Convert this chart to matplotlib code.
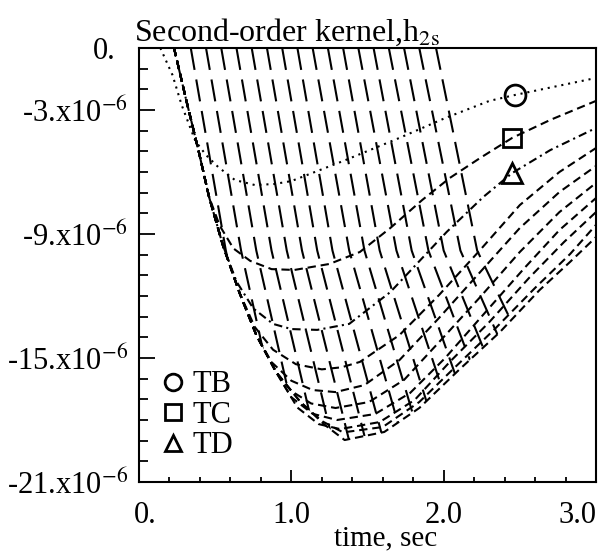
import matplotlib.pyplot as plt
import matplotlib.transforms as mtransforms
from matplotlib.patches import Polygon
from matplotlib.lines import Line2D

plt.rcParams['font.family'] = 'serif'
plt.rcParams['font.serif'] = ['Liberation Serif', 'DejaVu Serif']
plt.rcParams['mathtext.fontset'] = 'stix'
plt.rcParams['lines.scale_dashes'] = False

scale = 1e-6  # kernel values below are in units of 1e-6

# curves of constant second argument (time, sec / value x1e-6)
tb_t = [0.14, 0.22, 0.28, 0.33, 0.37, 0.44, 0.52, 0.63, 0.76, 0.89, 1.00, 1.34, 1.71, 2.01, 2.30, 2.47, 3.00]
tb_v = [0, -1.31, -2.76, -3.73, -4.50, -5.18, -5.76, -6.39, -6.63, -6.58, -6.44, -5.47, -4.35, -3.39, -2.56, -2.27, -1.45]
tc_t = [0.23, 0.31, 0.39, 0.46, 0.53, 0.62, 0.73, 0.87, 1.02, 1.25, 1.45, 1.65, 1.86, 2.04, 2.24, 2.45, 2.70, 3.00]
tc_v = [0, -2.52, -4.94, -7.21, -8.60, -9.70, -10.30, -10.70, -10.74, -10.45, -9.87, -8.71, -7.35, -6.29, -5.32, -4.35, -3.48, -2.56]
td_t = [0.23, 0.31, 0.39, 0.46, 0.55, 0.64, 0.75, 0.88, 1.00, 1.17, 1.38, 1.65, 1.86, 2.02, 2.26, 2.45, 2.70, 3.00]
td_v = [0, -2.52, -4.94, -7.21, -9.53, -11.30, -12.60, -13.35, -13.60, -13.64, -13.35, -11.81, -10.16, -8.90, -7.21, -6.05, -4.94, -3.87]
c3_t = [0.23, 0.31, 0.39, 0.46, 0.55, 0.66, 0.76, 0.88, 1.03, 1.20, 1.33, 1.45, 1.71, 1.97, 2.24, 2.50, 2.76, 3.00]
c3_v = [0, -2.52, -4.94, -7.21, -9.53, -11.85, -13.50, -14.60, -15.30, -15.55, -15.45, -15.19, -13.89, -11.95, -9.77, -7.60, -6.00, -4.84]
c4_t = [0.23, 0.31, 0.39, 0.46, 0.55, 0.66, 0.77, 0.87, 1.00, 1.14, 1.29, 1.48, 1.71, 1.97, 2.24, 2.50, 2.76, 3.00]
c4_v = [0, -2.52, -4.94, -7.21, -9.53, -11.85, -13.89, -15.20, -16.10, -16.55, -16.65, -16.31, -15.10, -13.06, -10.84, -8.71, -6.97, -5.71]
c5_t = [0.23, 0.31, 0.39, 0.46, 0.55, 0.66, 0.77, 0.90, 1.00, 1.13, 1.29, 1.51, 1.74, 1.97, 2.24, 2.50, 2.76, 3.00]
c5_v = [0, -2.52, -4.94, -7.21, -9.53, -11.85, -13.89, -15.68, -16.60, -17.20, -17.42, -17.13, -16.06, -14.23, -12.05, -9.87, -7.94, -6.53]
c6_t = [0.23, 0.31, 0.39, 0.46, 0.55, 0.66, 0.77, 0.90, 1.00, 1.14, 1.30, 1.55, 1.78, 2.01, 2.27, 2.53, 2.76, 3.00]
c6_v = [0, -2.52, -4.94, -7.21, -9.53, -11.85, -13.89, -15.68, -16.90, -17.70, -18.00, -17.71, -16.69, -15.00, -12.82, -10.65, -8.81, -7.26]
c7_t = [0.23, 0.31, 0.39, 0.46, 0.55, 0.66, 0.77, 0.90, 1.04, 1.18, 1.32, 1.58, 1.81, 2.04, 2.30, 2.56, 2.79, 3.00]
c7_v = [0, -2.52, -4.94, -7.21, -9.53, -11.85, -13.89, -15.68, -17.40, -18.20, -18.44, -18.10, -17.03, -15.19, -13.26, -11.13, -9.39, -7.94]
c8_t = [0.23, 0.31, 0.39, 0.46, 0.55, 0.66, 0.77, 0.90, 1.06, 1.20, 1.34, 1.60, 1.84, 2.07, 2.33, 2.60, 2.83, 3.00]
c8_v = [0, -2.52, -4.94, -7.21, -9.53, -11.85, -13.89, -15.68, -17.13, -18.05, -18.60, -18.34, -17.13, -15.48, -13.64, -11.61, -9.97, -8.56]
c9_t = [0.23, 0.31, 0.39, 0.46, 0.55, 0.66, 0.77, 0.90, 1.06, 1.22, 1.35, 1.61, 1.84, 2.10, 2.37, 2.63, 2.83, 3.00]
c9_v = [0, -2.52, -4.94, -7.21, -9.53, -11.85, -13.89, -15.68, -17.13, -18.24, -18.97, -18.58, -17.42, -15.58, -13.74, -11.71, -10.35, -9.15]

# steep cross lines: time where each one is at 0, -9.8 and -20.5 (x1e-6)
cross_v = [0.0, -9.8, -20.5]
cross_top = [0.34, 0.44, 0.54, 0.64, 0.74, 0.84, 0.94, 1.04, 1.14, 1.24, 1.34, 1.44, 1.54, 1.64, 1.74, 1.84, 1.95]
cross_mid = [0.57, 0.67, 0.77, 0.87, 0.97, 1.07, 1.17, 1.27, 1.38, 1.48, 1.58, 1.69, 1.79, 1.90, 2.00, 2.11, 2.22]
cross_bot = [0.89, 0.99, 1.10, 1.21, 1.32, 1.43, 1.54, 1.66, 1.79, 1.91, 2.03, 2.17, 2.30, 2.45, 2.59, 2.75, 2.92]

# symbols on the three labelled curves
mark_t = [2.47, 2.45, 2.45]
mark_v = [-2.27, -4.35, -6.05]
mark_sym = ['o', 's', '^']
mark_names = ['TB', 'TC', 'TD']

fig = plt.figure(figsize=(6.02, 5.53), dpi=100)
ax = fig.add_axes([0.2309, 0.1284, 0.7591, 0.7848])

lw = 1.5
dashed = (0, (6, 3.5))
curves = [(tb_t, tb_v, (0, (1.5, 3.5))),
          (tc_t, tc_v, dashed),
          (td_t, td_v, (0, (6, 3, 1.5, 3))),
          (c3_t, c3_v, dashed),
          (c4_t, c4_v, dashed),
          (c5_t, c5_v, dashed),
          (c6_t, c6_v, dashed),
          (c7_t, c7_v, dashed),
          (c8_t, c8_v, dashed),
          (c9_t, c9_v, dashed)]
for t, v, ls in curves:
    ax.plot(t, [x * scale for x in v], color='black', lw=lw, linestyle=ls)

# region above the lowest curve, the cross lines stop there
region = [(t, v * scale) for t, v in zip(c9_t, c9_v)] + [(3.0, 1 * scale), (c9_t[0], 1 * scale)]
clip = Polygon(region, closed=True, transform=ax.transData)
for a, b, c in zip(cross_top, cross_mid, cross_bot):
    ln, = ax.plot([a, b, c], [x * scale for x in cross_v], color='black', lw=lw,
                  linestyle=(0, (16, 7)))
    ln.set_clip_path(clip)

for t, v, m in zip(mark_t, mark_v, mark_sym):
    ax.plot(t, v * scale, marker=m, markersize=15 if m != 's' else 13, mfc='none',
            mec='black', mew=2.0, zorder=5)

handles = [Line2D([], [], marker=m, linestyle='none', markersize=12, mfc='none',
                  mec='black', mew=2.0) for m in mark_sym]
ax.legend(handles, mark_names, loc='lower left', bbox_to_anchor=(0.05, 0.05),
          frameon=False, fontsize=22, handlelength=0.7, handletextpad=0.3,
          labelspacing=0.05, borderpad=0, borderaxespad=0)

ax.set_xlim(0, 3.0)
ax.set_ylim(-21 * scale, 0)
ax.set_xticks([0, 1.0, 2.0, 3.0])
ax.set_xticklabels(['0.', '1.0', '2.0', '3.0'])
ax.set_xticks([0.2 * k for k in range(1, 15)], minor=True)
ax.set_yticks([0, -3 * scale, -9 * scale, -15 * scale, -21 * scale])
ax.set_yticklabels(['0.', '-3.x10$^{-6}$', '-9.x10$^{-6}$',
                    '-15.x10$^{-6}$', '-21.x10$^{-6}$'])
ax.set_yticks([-k * scale for k in range(1, 21)], minor=True)
ax.tick_params(axis='both', which='both', direction='in', top=False, right=False,
               width=1.3, labelsize=22)
ax.tick_params(axis='y', which='major', length=11.5, pad=8)
ax.tick_params(axis='y', which='minor', length=6.5)
ax.tick_params(axis='x', which='major', length=8.5, pad=14)
ax.tick_params(axis='x', which='minor', length=3.5)
for s in ax.spines.values():
    s.set_linewidth(1.5)

# nudge end labels the way the original sets them
xl = ax.get_xticklabels()
xl[0].set_transform(xl[0].get_transform() + mtransforms.ScaledTranslation(4.5 / 72, 0, fig.dpi_scale_trans))
xl[3].set_transform(xl[3].get_transform() + mtransforms.ScaledTranslation(-13 / 72, 0, fig.dpi_scale_trans))
yl = ax.get_yticklabels()
yl[0].set_transform(yl[0].get_transform() + mtransforms.ScaledTranslation(-9 / 72, 0, fig.dpi_scale_trans))

ax.set_xlabel('time, sec', fontsize=21)
ax.xaxis.set_label_coords(0.54, -0.145)
ax.xaxis.label.set_va('baseline')
ax.set_title(r'Second-order kernel,h$_{\rm 2s}$', loc='left', fontsize=23, pad=3, x=-0.01)

fig.savefig('out.png', dpi=100)
